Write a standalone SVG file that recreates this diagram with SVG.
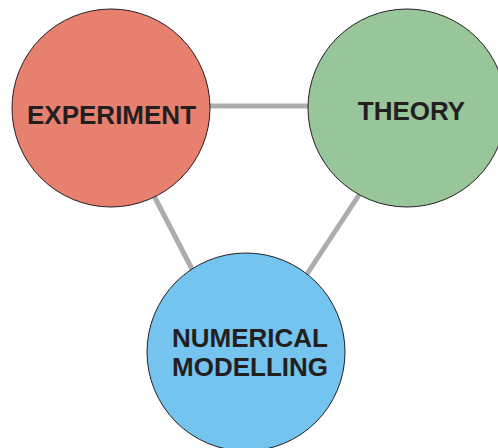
<svg xmlns="http://www.w3.org/2000/svg" width="498" height="448" viewBox="0 0 498 448">
<style>
.c{stroke:#231F20;stroke-width:1}
.l{stroke:#ADADAD;stroke-width:5;fill:none}
.t{font-family:"Liberation Sans",Arial,sans-serif;font-weight:bold;font-size:26px;fill:#231F20;text-anchor:middle}
</style>
<rect width="498" height="448" fill="#fff"/>
<g id="connectors">
<line class="l" x1="209" y1="106" x2="309" y2="106"/>
<line class="l" x1="153" y1="194" x2="193" y2="271"/>
<line class="l" x1="361" y1="192" x2="307" y2="274"/>
</g>
<g id="experiment">
<circle class="c" cx="111" cy="108" r="99" fill="#E88070"/>
<text class="t" x="111.5" y="124">EXPERIMENT</text>
</g>
<g id="theory">
<circle class="c" cx="407" cy="108" r="99" fill="#99C59B"/>
<text class="t" x="411.5" y="120">THEORY</text>
</g>
<g id="numerical">
<circle class="c" cx="246" cy="352" r="99" fill="#75C4F0"/>
<text class="t" x="250" y="347">NUMERICAL</text>
<text class="t" x="250" y="376">MODELLING</text>
</g>
</svg>
